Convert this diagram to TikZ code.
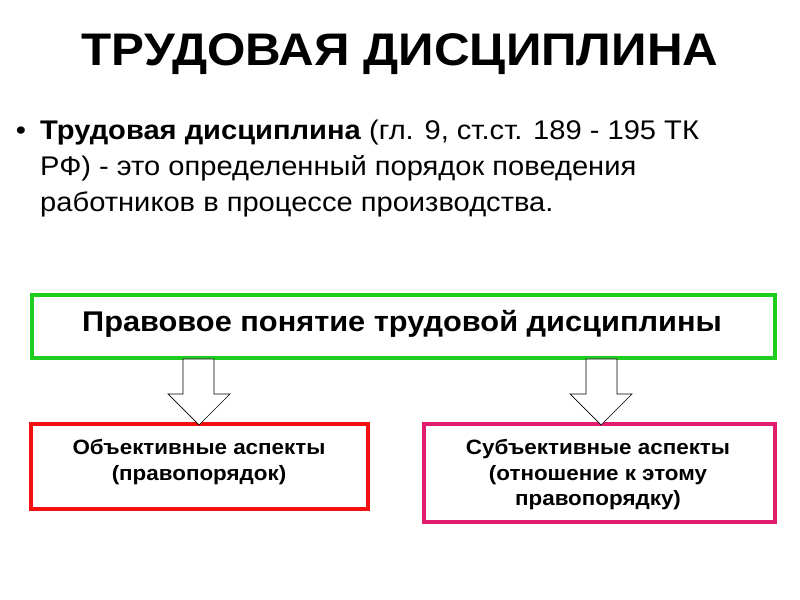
\documentclass[tikz,border=0pt]{standalone}
\usepackage{fontspec}
\setmainfont{Liberation Sans}[FakeStretch=1.08]
\usetikzlibrary{positioning}
\definecolor{boxgreen}{RGB}{30,205,30}
\definecolor{boxred}{RGB}{245,15,15}
\definecolor{boxpink}{RGB}{225,30,110}
\tikzset{
  framebox/.style={draw,line width=3pt,inner sep=0pt},
  blockarrow/.style={draw,line width=0.6pt,fill=white},
  aspect/.style={font=\fontsize{17.7}{22}\selectfont\bfseries,align=center,inner sep=0pt}
}
\begin{document}
\begin{tikzpicture}[x=0.03cm,y=-0.03cm]
            \useasboundingbox (0,0) rectangle (800,600);
            % title
            \node[font=\fontsize{39}{44}\selectfont\bfseries] (title) at (400,54) {ТРУДОВАЯ ДИСЦИПЛИНА};
            % bullet text
            \node[font=\fontsize{23}{30.6}\selectfont,inner sep=0pt] (bullet) at (21,133) {•};
            \node[anchor=north west,align=left,inner sep=0pt,font=\fontsize{23}{30.6}\selectfont] (def) at (40,120)
              {\textbf{Трудовая дисциплина} (гл. 9, ст.ст. 189 - 195 ТК\\
               РФ) - это определенный порядок поведения\\
               работников в процессе производства.};
            % boxes
            \draw[framebox,boxgreen] (32,295) rectangle (775,358);
            \node[font=\fontsize{24.3}{28}\selectfont\bfseries] (legal) at (402,324) {Правовое понятие трудовой дисциплины};
            \draw[framebox,boxred] (31,424) rectangle (368,509);
            \node[aspect,anchor=north] (objective) at (199,439) {Объективные аспекты\\(правопорядок)};
            \draw[framebox,boxpink] (424,424) rectangle (775,522);
            \node[aspect,anchor=north] (subjective) at (598,439) {Субъективные аспекты\\(отношение к этому\\правопорядку)};
            % arrows
            \draw[blockarrow] (183,359) -- (214,359) -- (214,394) -- (230,394) -- (199,425)
              -- (168,394) -- (183,394) -- cycle;
            \draw[blockarrow] (586,359) -- (617,359) -- (617,394) -- (632,394) -- (601,425)
              -- (570,394) -- (586,394) -- cycle;
        \end{tikzpicture}
\end{document}
